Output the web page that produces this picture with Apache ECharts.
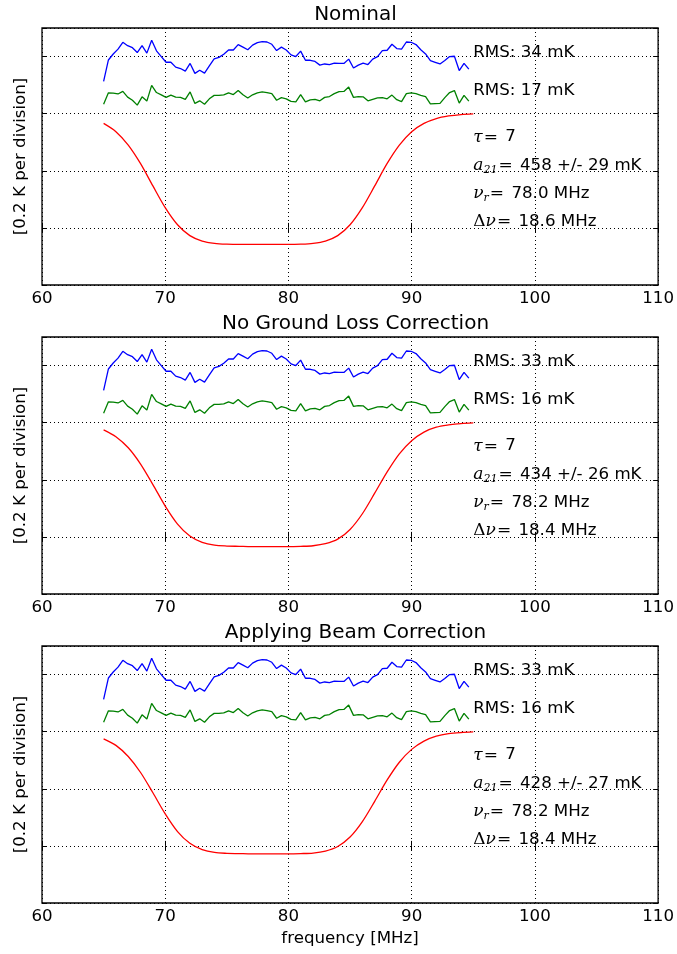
<!DOCTYPE html>
<html><head><meta charset="utf-8">
<script src="https://cdn.jsdelivr.net/npm/echarts@6/dist/echarts.min.js"></script>
<style>html,body{margin:0;padding:0;background:#fff}#c{width:677px;height:954px}</style>
</head><body><div id="c"></div><script>
// ---------------- data ----------------
const titles = ['Nominal', 'No Ground Loss Correction', 'Applying Beam Correction'];
const xTicks = [60, 70, 80, 90, 100, 110];
const freqData = [65.00,65.39,65.78,66.17,66.56,66.95,67.34,67.73,68.12,68.51,68.90,69.29,69.68,70.07,70.46,70.85,71.24,71.63,72.02,72.41,72.80,73.19,73.58,73.97,74.36,74.75,75.14,75.53,75.92,76.31,76.70,77.09,77.48,77.87,78.26,78.65,79.04,79.43,79.82,80.21,80.60,80.99,81.38,81.77,82.16,82.55,82.94,83.33,83.72,84.11,84.50,84.89,85.28,85.67,86.06,86.45,86.84,87.23,87.62,88.01,88.40,88.79,89.18,89.57,89.96,90.35,90.74,91.13,91.52,91.91,92.30,92.69,93.08,93.47,93.86,94.25,94.64];
const blueResid = [0.513,0.588,0.609,0.626,0.650,0.638,0.631,0.614,0.638,0.612,0.657,0.620,0.600,0.580,0.580,0.563,0.558,0.549,0.576,0.541,0.552,0.542,0.567,0.592,0.597,0.608,0.623,0.623,0.642,0.633,0.624,0.640,0.649,0.652,0.651,0.643,0.621,0.633,0.623,0.606,0.600,0.619,0.587,0.587,0.583,0.570,0.574,0.572,0.577,0.576,0.576,0.591,0.560,0.570,0.577,0.572,0.591,0.600,0.621,0.622,0.643,0.628,0.626,0.651,0.650,0.642,0.624,0.609,0.586,0.580,0.574,0.586,0.600,0.601,0.551,0.576,0.556];
const greenResid = [0.433,0.473,0.472,0.469,0.478,0.458,0.447,0.430,0.459,0.444,0.499,0.474,0.466,0.457,0.465,0.458,0.457,0.450,0.476,0.436,0.445,0.433,0.452,0.464,0.464,0.466,0.473,0.467,0.481,0.466,0.455,0.466,0.473,0.476,0.474,0.470,0.447,0.456,0.452,0.443,0.441,0.467,0.441,0.448,0.450,0.445,0.457,0.460,0.470,0.477,0.478,0.493,0.457,0.460,0.459,0.445,0.450,0.455,0.456,0.452,0.465,0.449,0.442,0.470,0.473,0.470,0.464,0.460,0.434,0.435,0.436,0.456,0.474,0.481,0.437,0.464,0.444];
const freqModel = [65,66,67,68,69,70,71,72,73,74,75,76,77,78,79,80,81,82,83,84,85,86,87,88,89,90,91,92,93,94,95];
const redNominal = [0.366,0.337,0.290,0.225,0.147,0.071,0.011,-0.027,-0.046,-0.054,-0.057,-0.058,-0.058,-0.058,-0.058,-0.058,-0.057,-0.054,-0.046,-0.027,0.011,0.071,0.147,0.225,0.290,0.337,0.366,0.383,0.392,0.397,0.399];
const redNoGround = [0.375,0.351,0.312,0.255,0.183,0.108,0.045,0.003,-0.019,-0.029,-0.032,-0.033,-0.034,-0.034,-0.034,-0.034,-0.033,-0.031,-0.024,-0.008,0.026,0.081,0.153,0.227,0.291,0.337,0.367,0.384,0.392,0.397,0.399];
const redBeam = [0.375,0.352,0.313,0.257,0.186,0.112,0.050,0.009,-0.013,-0.023,-0.026,-0.027,-0.028,-0.028,-0.028,-0.028,-0.027,-0.025,-0.018,-0.002,0.031,0.085,0.156,0.230,0.293,0.338,0.367,0.384,0.393,0.397,0.399];
const rmsBlue = [34, 33, 33];
const rmsGreen = [17, 16, 16];
const tauVals = [7, 7, 7];
const a21 = [458, 434, 428];
const a21Err = [29, 26, 27];
const nuR = ['78.0', '78.2', '78.2'];
const dNu = ['18.6', '18.4', '18.4'];

// ---------------- layout / style ----------------
const FONT = 'DejaVu Sans';
const MATH = 'DejaVu Serif';
const FS = 16.67;
const plotLeft = 42, plotWidth = 617, plotHeight = 257;
const plotTops = [28, 337, 646];
const annoX = 95.0;
const annoY = [0.612, 0.479, 0.318, 0.219, 0.121, 0.021];
const redSets = [redNominal, redNoGround, redBeam];
const gridLine = {color: '#000', width: 1, type: [1, 3]};
const tickStyle = {color: '#000', width: 1};

const chart = echarts.init(document.getElementById('c'), null, {renderer: 'canvas'});
const grid = [], xAxis = [], yAxis = [], series = [], title = [];

plotTops.forEach((top, i) => {
  grid.push({left: plotLeft, top: top, width: plotWidth, height: plotHeight, show: true,
    borderColor: '#000', borderWidth: 1.3, backgroundColor: '#fff'});
  title.push({text: titles[i], left: plotLeft + plotWidth / 2, top: top - 28, textAlign: 'center',
    textStyle: {fontFamily: FONT, fontSize: 20, fontWeight: 'normal', color: '#000'}});
  xAxis.push({type: 'value', gridIndex: i, min: xTicks[0], max: xTicks[xTicks.length - 1], interval: 10,
    position: 'bottom', axisLine: {show: false},
    axisTick: {show: true, inside: true, length: 5, lineStyle: tickStyle},
    axisLabel: {show: true, color: '#000', fontFamily: FONT, fontSize: FS, margin: 5, showMinLabel: true, showMaxLabel: true},
    splitLine: {show: true, lineStyle: gridLine},
    name: i === 2 ? 'frequency [MHz]' : '', nameLocation: 'middle', nameGap: 27,
    nameTextStyle: {color: '#000', fontFamily: FONT, fontSize: FS}});
  xAxis.push({type: 'value', gridIndex: i, min: xTicks[0], max: xTicks[xTicks.length - 1], interval: 10,
    position: 'top', axisLine: {show: false},
    axisTick: {show: true, inside: true, length: 5, lineStyle: tickStyle},
    axisLabel: {show: false}, splitLine: {show: false}});
  yAxis.push({type: 'value', gridIndex: i, min: -0.2, max: 0.7, interval: 0.2, position: 'left',
    axisLine: {show: false},
    axisTick: {show: true, inside: true, length: 5, lineStyle: tickStyle},
    axisLabel: {show: false}, splitLine: {show: true, lineStyle: gridLine},
    name: '[0.2 K per division]', nameLocation: 'middle', nameGap: 13, nameRotate: 90,
    nameTextStyle: {color: '#000', fontFamily: FONT, fontSize: FS}});
  yAxis.push({type: 'value', gridIndex: i, min: -0.2, max: 0.7, interval: 0.2, position: 'right',
    axisLine: {show: false},
    axisTick: {show: true, inside: true, length: 5, lineStyle: tickStyle},
    axisLabel: {show: false}, splitLine: {show: false}});

  series.push({type: 'line', xAxisIndex: 2 * i, yAxisIndex: 2 * i, symbol: 'none', z: 3,
    data: freqData.map((f, k) => [f, blueResid[k]]), lineStyle: {color: '#0000ff', width: 1.3}});
  series.push({type: 'line', xAxisIndex: 2 * i, yAxisIndex: 2 * i, symbol: 'none', z: 3,
    data: freqData.map((f, k) => [f, greenResid[k]]), lineStyle: {color: '#008000', width: 1.3}});
  series.push({type: 'line', xAxisIndex: 2 * i, yAxisIndex: 2 * i, symbol: 'none', z: 3, smooth: 0.3,
    data: freqModel.map((f, k) => [f, redSets[i][k]]), lineStyle: {color: '#ff0000', width: 1.3}});

  const texts = [
    'RMS: ' + rmsBlue[i] + ' mK',
    'RMS: ' + rmsGreen[i] + ' mK',
    '{m|τ}{e|=} ' + tauVals[i],
    '{m|a}{s|21}{e|=} ' + a21[i] + ' +/- ' + a21Err[i] + ' mK',
    '{m|ν}{s|r}{e|=} ' + nuR[i] + ' MHz',
    '{u|Δ}{m|ν}{e|=} ' + dNu[i] + ' MHz'
  ];
  series.push({type: 'scatter', xAxisIndex: 2 * i, yAxisIndex: 2 * i, symbolSize: 0, z: 5, silent: true,
    itemStyle: {opacity: 1, color: 'rgba(0,0,0,0)'},
    data: annoY.map((y, k) => ({value: [annoX, y], txt: texts[k]})),
    label: {show: true, position: 'right', distance: 0, color: '#000', opacity: 1, fontFamily: FONT, fontSize: FS,
      lineHeight: 20,
      formatter: p => p.data.txt,
      rich: {
        m: {fontFamily: MATH, fontStyle: 'italic', fontSize: 17, color: '#000', lineHeight: 20},
        u: {fontFamily: MATH, fontSize: 17, color: '#000', lineHeight: 20},
        e: {fontFamily: MATH, fontSize: 17, color: '#000', lineHeight: 20, padding: [0, 2, 0, 1]},
        s: {fontFamily: MATH, fontStyle: 'italic', fontSize: 11, color: '#000', padding: [9, 0, 0, 0], lineHeight: 20}
      }}});
});

chart.setOption({animation: false, backgroundColor: '#fff', title, grid, xAxis, yAxis, series});
</script></body></html>
